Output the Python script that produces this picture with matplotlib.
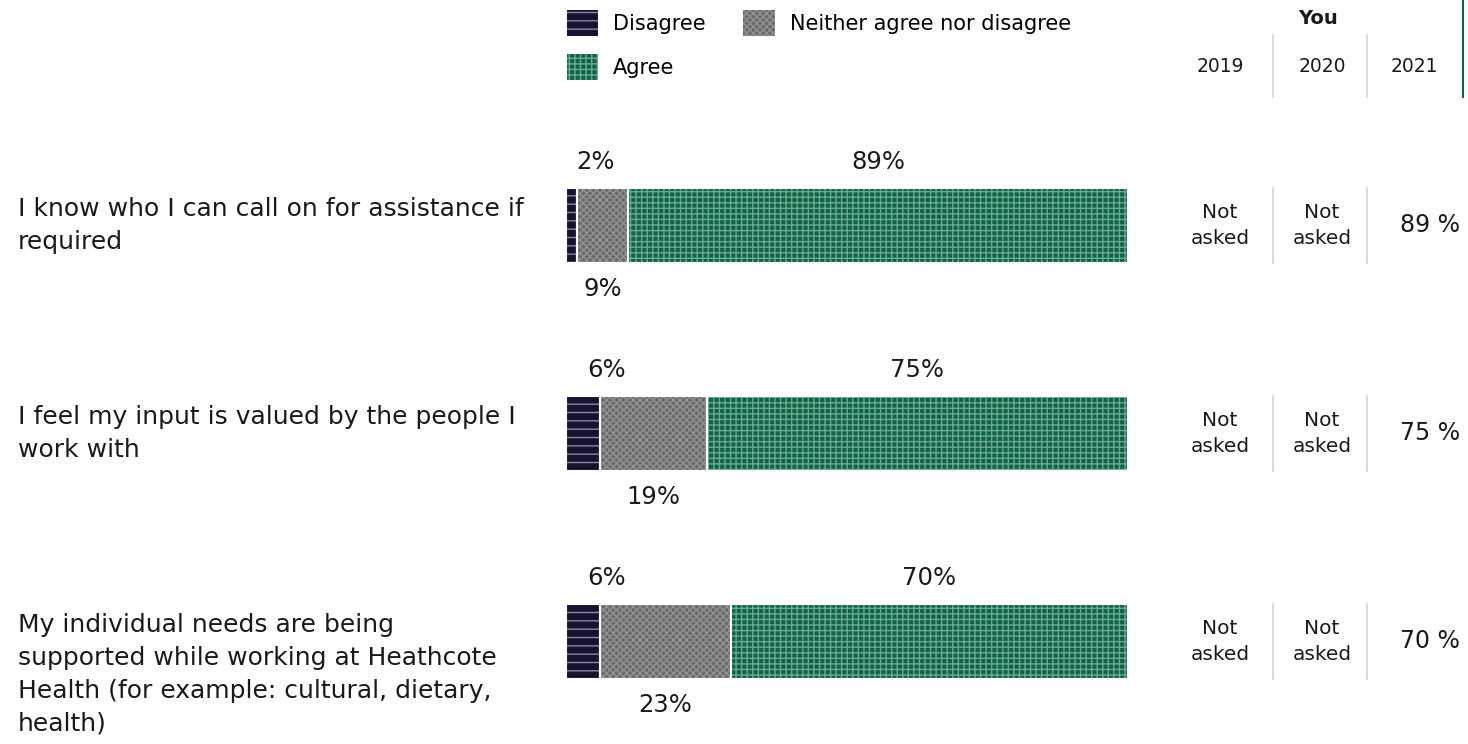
import matplotlib.pyplot as plt
from matplotlib.patches import Patch
from matplotlib.lines import Line2D
from matplotlib.transforms import blended_transform_factory

# data
questions = [
    "I know who I can call on for assistance if\nrequired",
    "I feel my input is valued by the people I\nwork with",
    "My individual needs are being\nsupported while working at Heathcote\nHealth (for example: cultural, dietary,\nhealth)",
]
disagree = [2, 6, 6]
neither = [9, 19, 23]
agree = [89, 75, 70]
years = ["2019", "2020", "2021"]
history = [
    ["Not\nasked", "Not\nasked", "89 %"],
    ["Not\nasked", "Not\nasked", "75 %"],
    ["Not\nasked", "Not\nasked", "70 %"],
]

W, H = 1468, 744
DARK = "#17132f"
GREY = "#6a6a6a"
GREEN = "#0d6448"
TXT = "#1a1a1a"

plt.rcParams["font.family"] = ["DejaVu Sans"]
plt.rcParams["hatch.linewidth"] = 1.0

fig = plt.figure(figsize=(W / 100, H / 100), dpi=100)


def fx(px):
    return px / W


def fy(py):
    return 1 - py / H


# bar axes: x 0..100 over the bar area, rows 208 px apart
ax = fig.add_axes([fx(566), 0, 562 / W, 1])
ax.set_xlim(0, 100)
ax.set_ylim((H - 225.5) / 208, -225.5 / 208)
ax.axis("off")

rows = list(range(len(questions)))
totals = [d + n + a for d, n, a in zip(disagree, neither, agree)]
bh = 0.36
styles = [
    (disagree, DARK, "#8a86a6", "--"),
    (neither, GREY, "#929292", "xxxxx"),
    (agree, GREEN, "#6fa890", "+++"),
]
left = [0] * len(rows)
for vals, fc, hc, hatch in styles:
    w = [v / t * 100 for v, t in zip(vals, totals)]
    ax.barh(rows, w, left=left, height=bh, color=fc, edgecolor=hc,
            hatch=hatch, linewidth=0)
    ax.barh(rows, w, left=left, height=bh, facecolor="none",
            edgecolor="white", linewidth=1.5)
    left = [a + b for a, b in zip(left, w)]

# value labels
for i in rows:
    d, n, a = [v / totals[i] * 100 for v in (disagree[i], neither[i], agree[i])]
    ax.text(d / 2 + 4.2, i - 0.305, f"{disagree[i]}%", ha="center", va="center",
            fontsize=17.5, color=TXT)
    ax.text(d + n / 2, i + 0.305, f"{neither[i]}%", ha="center", va="center",
            fontsize=17.5, color=TXT)
    ax.text(d + n + a / 2, i - 0.305, f"{agree[i]}%", ha="center", va="center",
            fontsize=17.5, color=TXT)

# question text
tq = blended_transform_factory(fig.transFigure, ax.transData)
for i, q in enumerate(questions):
    ax.text(fx(18), i - 0.135, q, transform=tq, ha="left", va="top",
            fontsize=18, color=TXT, linespacing=1.45)

# history table
col_x = [1220, 1322, 1414]
sep_x = [1273, 1367]
for i in rows:
    for j, cell in enumerate(history[i]):
        pct = "%" in cell
        ax.text(fx(col_x[j] + (16 if pct else 0)), i, cell, transform=tq,
                ha="center", va="center", fontsize=17 if pct else 14.5,
                color=TXT, linespacing=1.5)
    for sx in sep_x:
        ax.add_line(Line2D([fx(sx), fx(sx)], [i - bh / 2, i + bh / 2],
                           transform=tq, color="#d4d4d4", lw=1.2, clip_on=False))

# header
fig.text(fx(1318), fy(18), "You", ha="center", va="center", fontsize=14,
         fontweight="bold", color=TXT)
for j, y in enumerate(years):
    fig.text(fx(col_x[j]), fy(66), y, ha="center", va="center", fontsize=13.5,
             color=TXT)
for sx in sep_x:
    fig.add_artist(Line2D([fx(sx), fx(sx)], [fy(35), fy(97)], color="#d4d4d4",
                          lw=1.2))
fig.add_artist(Line2D([fx(1463), fx(1463)], [fy(0), fy(97)], color=GREEN, lw=1.5))

# legend
handles = [
    Patch(facecolor=DARK, edgecolor="#8a86a6", hatch="--", linewidth=0, label="Disagree"),
    Patch(facecolor=GREEN, edgecolor="#6fa890", hatch="+++", linewidth=0, label="Agree"),
    Patch(facecolor=GREY, edgecolor="#929292", hatch="xxxxx", linewidth=0,
          label="Neither agree nor disagree"),
]
fig.legend(handles=handles, loc="upper left", bbox_to_anchor=(fx(567), fy(10)),
           ncol=2, frameon=False, fontsize=15, handlelength=1.5, handleheight=1.55,
           handletextpad=0.72, columnspacing=1.8, labelspacing=0.85, borderpad=0,
           borderaxespad=0)

fig.savefig("out.png", dpi=100)
